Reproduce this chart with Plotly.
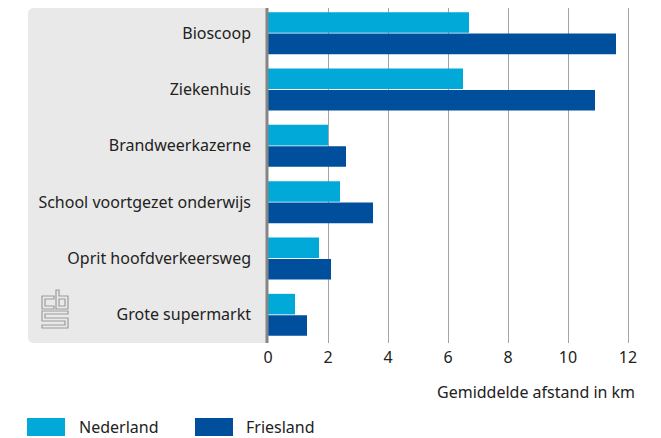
import plotly.graph_objects as go

# data
voorzieningen = ["Bioscoop", "Ziekenhuis", "Brandweerkazerne", "School voortgezet onderwijs",
                 "Oprit hoofdverkeersweg", "Grote supermarkt"]
nederland = [6.7, 6.5, 2.0, 2.4, 1.7, 0.9]
friesland = [11.6, 10.9, 2.6, 3.5, 2.1, 1.3]
x_ticks = [0, 2, 4, 6, 8, 10, 12]

c_nl = "#00a9d8"
c_fr = "#004f9d"
font = "Noto Sans"

# page has an 8px body margin, so work in reference pixels minus 8
OFF = 8
W, H = 661 - OFF, 438 - OFF
L, R, T, B = 268 - OFF, 634 - OFF, 0, 343 - OFF

def px(x):
    return (x - OFF - L) / (R - L)

def py(y):
    return (B - (y - OFF)) / (B - T)

fig = go.Figure()
fig.add_trace(go.Bar(y=voorzieningen, x=nederland, orientation="h", name="Nederland",
                     marker=dict(color=c_nl, line=dict(width=0))))
fig.add_trace(go.Bar(y=voorzieningen, x=friesland, orientation="h", name="Friesland",
                     marker=dict(color=c_fr, line=dict(width=0))))

shapes = []
# grey panel behind labels (rounded left corners)
x0, x1, y0, y1 = px(28), px(268), py(343), 1
rx, ry = 6 / (R - L), 6 / (B - T)
panel = (f"M {x1},{y0} L {x0+rx},{y0} Q {x0},{y0} {x0},{y0+ry} "
         f"L {x0},{y1-ry} Q {x0},{y1} {x0+rx},{y1} L {x1},{y1} Z")
shapes.append(dict(type="path", path=panel, xref="paper", yref="paper",
                   fillcolor="#e9e9e9", line=dict(width=0), layer="below"))
# axis line
shapes.append(dict(type="line", xref="paper", yref="paper", x0=px(267), x1=px(267), y0=0, y1=1,
                   line=dict(color="#858585", width=3)))

# cbs logo (outlined letters)
logo = [
    "M 54,296 L 42,296 L 42,309 L 54,309 L 54,306 L 45,306 L 45,299 L 54,299 Z",
    "M 56,290 L 59,290 L 59,296 L 68,296 L 68,309 L 56,309 Z",
    "M 59,299 L 65,299 L 65,306 L 59,306 Z",
    "M 42,311 L 68,311 L 68,314 L 45,314 L 45,318 L 68,318 L 68,328 L 42,328 L 42,325 L 65,325 L 65,321 L 42,321 Z",
]
for p in logo:
    out = []
    for tok in p.split():
        if "," in tok:
            a, b = tok.split(",")
            out.append(f"{px(float(a)):.5f},{py(float(b)):.5f}")
        else:
            out.append(tok)
    shapes.append(dict(type="path", path=" ".join(out), xref="paper", yref="paper",
                       line=dict(color="#9c9c9c", width=1.2)))

# legend swatches
shapes.append(dict(type="rect", xref="paper", yref="paper", x0=px(27), x1=px(65), y0=py(436), y1=py(418),
                   fillcolor=c_nl, line=dict(width=0)))
shapes.append(dict(type="rect", xref="paper", yref="paper", x0=px(195), x1=px(233), y0=py(436), y1=py(418),
                   fillcolor=c_fr, line=dict(width=0)))

annotations = [
    dict(text="Gemiddelde afstand in km", xref="paper", yref="paper", x=px(637), y=py(392),
         xanchor="right", yanchor="middle", showarrow=False, font=dict(size=16, color="#222", family=font)),
    dict(text="Nederland", xref="paper", yref="paper", x=px(77), y=py(427),
         xanchor="left", yanchor="middle", showarrow=False, font=dict(size=16, color="#222", family=font)),
    dict(text="Friesland", xref="paper", yref="paper", x=px(244), y=py(427),
         xanchor="left", yanchor="middle", showarrow=False, font=dict(size=16, color="#222", family=font)),
]

fig.update_layout(
    width=W, height=H,
    margin=dict(l=L, r=W - R, t=T, b=H - B, pad=0),
    paper_bgcolor="white", plot_bgcolor="white",
    barmode="group", bargap=0.24, bargroupgap=0.04,
    showlegend=False,
    font=dict(family=font, size=16, color="#222"),
    shapes=shapes, annotations=annotations,
)
fig.update_xaxes(range=[0, 12.2], tickvals=x_ticks, showgrid=True, gridcolor="#a3a3a3", gridwidth=1,
                 zeroline=False, showline=False, ticks="", ticklabelstandoff=3,
                 tickfont=dict(size=16, color="#222"))
# reference plot starts 3px above the page margin; keep category spacing the same
fig.update_yaxes(range=[5.5, -0.5 + 3 / 56.33], showgrid=False, zeroline=False, showline=False, ticks="",
                 ticklabelstandoff=16, tickfont=dict(size=16, color="#222"))

fig.write_html("out.html")
